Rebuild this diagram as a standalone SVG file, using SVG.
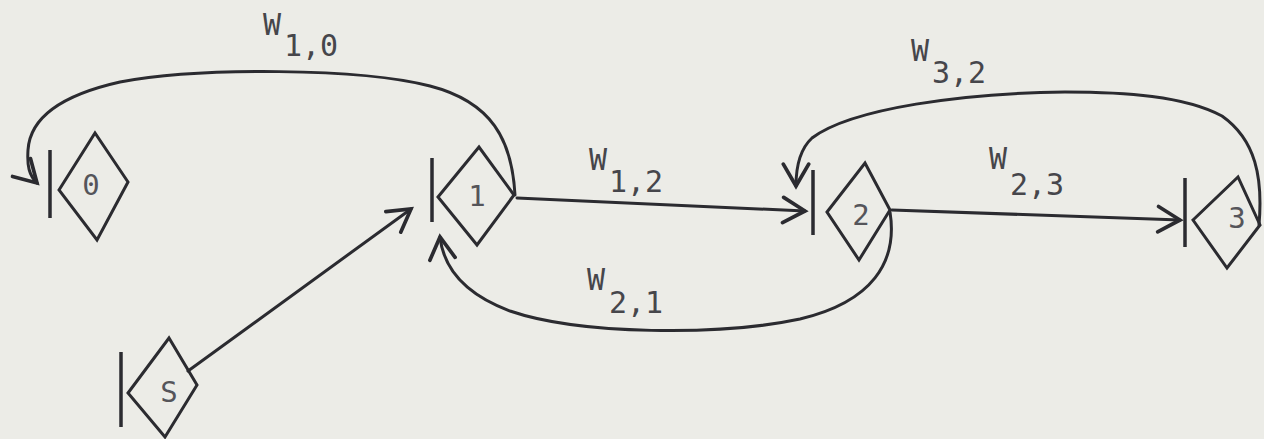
<svg xmlns="http://www.w3.org/2000/svg" width="1264" height="439" viewBox="0 0 1264 439">
<defs>
<style>
.bg{fill:#ecece7}
.sh{fill:none;stroke:#2b2b30;stroke-width:3;stroke-linejoin:miter}
.bar{stroke:#2b2b30;stroke-width:3.5}
.nl{font-family:"DejaVu Sans Mono","Liberation Mono",monospace;font-size:29px;fill:#55555a;text-anchor:middle;dominant-baseline:central}
.el{font-family:"DejaVu Sans Mono","Liberation Mono",monospace;font-size:30px;fill:#46464b}
.cn{fill:none;stroke:#2b2b30;stroke-width:3;stroke-linecap:round}
</style>
<marker id="ah" markerUnits="userSpaceOnUse" markerWidth="30" markerHeight="30" viewBox="-22 -13 26 26" refX="0" refY="0" orient="auto">
<path d="M-19,-11 L0,0 L-19,11" fill="none" stroke="#2b2b30" stroke-width="3.2" stroke-linecap="round" stroke-linejoin="miter"/>
</marker>
</defs>
<rect class="bg" x="0" y="0" width="1264" height="439"/>

<g id="node-0">
<line class="bar" x1="50" y1="150" x2="50" y2="218"/>
<polygon class="sh" points="59,190 95,133 128,182 97,240"/>
<text class="nl" x="91" y="185">0</text>
</g>
<g id="node-1">
<line class="bar" x1="432" y1="158" x2="432" y2="222"/>
<polygon class="sh" points="438,197 479,147 514,195 477,245"/>
<text class="nl" x="477" y="196">1</text>
</g>
<g id="node-2">
<line class="bar" x1="813" y1="170" x2="813" y2="235"/>
<polygon class="sh" points="827,212 865,163 890,210 859,260"/>
<text class="nl" x="861" y="215">2</text>
</g>
<g id="node-3">
<line class="bar" x1="1185" y1="178" x2="1185" y2="247"/>
<polygon class="sh" points="1193,220 1238,177 1260,225 1227,268"/>
<text class="nl" x="1237" y="218">3</text>
</g>
<g id="node-S">
<line class="bar" x1="121" y1="352" x2="121" y2="427"/>
<polygon class="sh" points="128,393 169,338 197,385 165,437"/>
<text class="nl" x="169" y="392">S</text>
</g>

<g id="connectors">
<path class="cn" marker-end="url(#ah)" d="M515,195 C512,140 492,102 430,86 C360,68 200,67 120,82 C62,95 30,118 28,150 C27,166 29,175 37,183"/>
<path class="cn" marker-end="url(#ah)" d="M517,198 L805,211"/>
<path class="cn" marker-end="url(#ah)" d="M892,210 L1180,220"/>
<path class="cn" marker-end="url(#ah)" d="M1259,225 C1263,178 1256,140 1222,116 C1185,96 1125,92 1065,92 C965,93 852,108 812,138 C799,150 796,168 796,186"/>
<path class="cn" marker-end="url(#ah)" d="M890,212 C898,262 872,302 800,319 C720,336 580,335 510,311 C470,296 444,272 440,237"/>
<path class="cn" marker-end="url(#ah)" d="M188,371 L411,209"/>
</g>

<g id="edge-labels">
<text class="el" x="263" y="35">W<tspan x="284" y="56">1,0</tspan></text>
<text class="el" x="589" y="170">W<tspan x="609" y="192">1,2</tspan></text>
<text class="el" x="911" y="61">W<tspan x="932" y="83">3,2</tspan></text>
<text class="el" x="989" y="169">W<tspan x="1010" y="195">2,3</tspan></text>
<text class="el" x="587" y="290">W<tspan x="609" y="313">2,1</tspan></text>
</g>
</svg>
